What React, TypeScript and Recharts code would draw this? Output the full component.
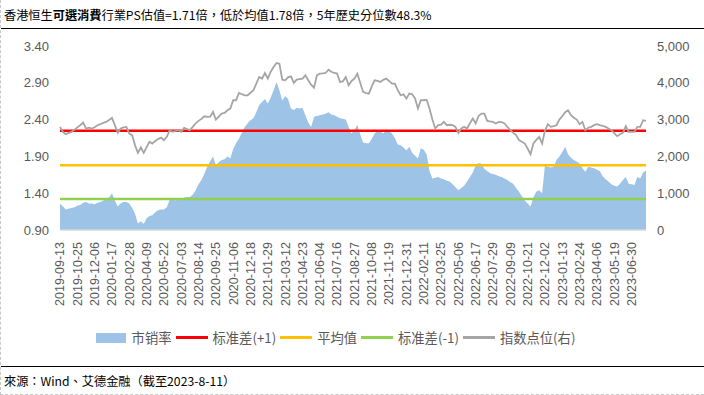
import React from 'react';
import { ComposedChart, Area, Line, XAxis, YAxis, Legend } from 'recharts';

// 市销率 (PS), weekly, 2019-09-13 .. 2023-08-04
const psRatio = [
  1.26, 1.22, 1.18, 1.19, 1.2, 1.21, 1.23, 1.24, 1.27, 1.28,
  1.26, 1.26, 1.25, 1.27, 1.28, 1.3, 1.31, 1.34, 1.4, 1.3,
  1.22, 1.26, 1.28, 1.28, 1.26, 1.2, 1.12, 0.99, 1.02, 0.98,
  1.06, 1.09, 1.1, 1.14, 1.17, 1.18, 1.18, 1.21, 1.31, 1.33,
  1.3, 1.32, 1.31, 1.34, 1.35, 1.35, 1.38, 1.44, 1.52, 1.58,
  1.66, 1.76, 1.83, 1.9, 1.78, 1.82, 1.85, 1.86, 1.9, 1.87,
  2.0, 2.08, 2.14, 2.22, 2.3, 2.35, 2.39, 2.42, 2.5, 2.6,
  2.64, 2.68, 2.62, 2.7, 2.8, 2.91, 2.8, 2.66, 2.72, 2.68,
  2.55, 2.53, 2.56, 2.55, 2.56, 2.46, 2.36, 2.3, 2.44, 2.45,
  2.46, 2.47, 2.48, 2.5, 2.47, 2.46, 2.44, 2.42, 2.41,
  2.4, 2.3, 2.21, 2.26, 2.33, 2.2, 2.09, 2.08, 2.08, 2.14,
  2.21, 2.25, 2.24, 2.21, 2.27, 2.25, 2.21, 2.15, 2.06, 2.05,
  2.02, 1.98, 2.03, 1.95, 1.91, 1.87, 2.01, 1.99, 1.93, 1.7,
  1.6, 1.61, 1.62, 1.6, 1.59, 1.57, 1.56, 1.52, 1.48, 1.44,
  1.47, 1.5, 1.56, 1.62, 1.68, 1.78, 1.81, 1.8, 1.73, 1.7,
  1.67, 1.66, 1.65, 1.63, 1.62, 1.6, 1.58, 1.55, 1.53, 1.47,
  1.42, 1.36, 1.3, 1.26, 1.22, 1.35, 1.42, 1.44, 1.4, 1.78,
  1.76, 1.75, 1.76, 1.85, 1.9, 1.96, 2.03, 1.93, 1.88, 1.85,
  1.83, 1.8, 1.74, 1.69, 1.76, 1.75, 1.74, 1.72, 1.7, 1.63,
  1.59, 1.56, 1.52, 1.5, 1.49, 1.53, 1.58, 1.62, 1.53, 1.52,
  1.51, 1.62, 1.6, 1.68, 1.71,
];

// 指数点位(右)
const indexLevel = [
  2802, 2667, 2604, 2640, 2667, 2720, 2790, 2848, 2920, 2757,
  2780, 2757, 2790, 2848, 2875, 2911, 2938, 2990, 3046, 2850,
  2640, 2757, 2790, 2802, 2622, 2577, 2300, 2097, 2242, 2097,
  2250, 2396, 2350, 2420, 2470, 2513, 2441, 2531, 2712, 2667,
  2690, 2712, 2667, 2775, 2740, 2712, 2802, 2900, 2965, 3020,
  3091, 3073, 3080, 3209, 3001, 3080, 3164, 3180, 3254, 3300,
  3526, 3526, 3724, 3690, 3661, 3661, 3730, 3797, 3978, 4158,
  4113, 4267, 4113, 4300, 4430, 4538, 4520, 4086, 4068, 4150,
  4176, 3996, 4086, 4100, 4113, 4204, 4068, 3950, 3869, 4204,
  4249, 4255, 4267, 4357, 4300, 4267, 4249, 4023, 4040,
  4158, 3932, 4050, 4113, 4249, 4000, 3752, 3720, 3706, 3900,
  4068, 4050, 4023, 4080, 4113, 4050, 3978, 3978, 3800, 3661,
  3688, 3571, 3706, 3688, 3571, 3300, 3526, 3526, 3540, 3300,
  3000, 2757, 2848, 2860, 2938, 2848, 2860, 2848, 2802, 2640,
  2760, 2802, 2757, 2900, 3028, 2893, 3100, 3164, 3164, 2965,
  2950, 2938, 2893, 2938, 2930, 2893, 2800, 2712, 2640, 2577,
  2441, 2400, 2350, 2215, 2061, 2350, 2450, 2531, 2350, 2700,
  2875, 2802, 2820, 2848, 3000, 3092, 3200, 3254, 3119, 3050,
  3001, 2875, 2938, 2712, 2780, 2802, 2850, 2875, 2848, 2830,
  2802, 2760, 2712, 2630, 2549, 2600, 2640, 2821, 2667, 2667,
  2667, 2802, 2802, 2983, 2965,
];

const meanPs = 1.78;
const upperBand = 2.25;
const lowerBand = 1.32;

const leftTicks = [0.9, 1.4, 1.9, 2.4, 2.9, 3.4];
const rightTicks = [0, 500, 1000, 1500, 2000, 2500, 3000, 3500, 4000, 4500, 5000];
const legendOrder = ['市销率', '标准差(+1)', '平均值', '标准差(-1)', '指数点位(右)'];

// trading-day shifts where the Friday was a holiday
const holidayShift: Record<string, string> = {
  '2020-04-10': '2020-04-09',
  '2020-12-25': '2020-12-24',
  '2021-04-02': '2021-04-01',
  '2022-04-15': '2022-04-14',
  '2023-04-07': '2023-04-06',
};

const startDate = Date.UTC(2019, 8, 13);
const weekMs = 7 * 24 * 3600 * 1000;

const dates = psRatio.map((_, i) => {
  const d = new Date(startDate + i * weekMs).toISOString().slice(0, 10);
  return holidayShift[d] ?? d;
});
// a label every 6th week
const dateTicks = dates.filter((_, i) => i % 6 === 0);

const data = dates.map((date, i) => ({
  date,
  ps: psRatio[i],
  upper: upperBand,
  mean: meanPs,
  lower: lowerBand,
  hsi: indexLevel[i],
}));

const axisFont = '"Liberation Sans", Arial, sans-serif';
const cjkFont = '"Noto Sans CJK TC", "Noto Sans CJK SC", sans-serif';

const DateTick = ({ x, y, payload }: any) => (
  <text
    x={x}
    y={y + 4}
    transform={`rotate(-90, ${x}, ${y + 4})`}
    textAnchor="end"
    dy="0.35em"
    fill="#595959"
    fontSize={12.5}
    fontFamily={axisFont}
  >
    {payload.value}
  </text>
);

const LegendContent = ({ payload }: any) => {
  const items = [...(payload || [])].sort(
    (a: any, b: any) => legendOrder.indexOf(a.value) - legendOrder.indexOf(b.value)
  );
  return (
    <div
      style={{
        display: 'flex',
        justifyContent: 'center',
        alignItems: 'center',
        paddingRight: 31,
        fontFamily: cjkFont,
        fontSize: 13.3,
        color: '#595959',
      }}
    >
      {items.map((entry: any) => (
        <div key={entry.value} style={{ display: 'flex', alignItems: 'center', marginRight: 4 }}>
          {entry.type === 'rect' ? (
            <span style={{ width: 30, height: 10, background: entry.color, marginRight: 6 }} />
          ) : (
            <span style={{ width: 32, height: 3, background: entry.color, marginRight: 5 }} />
          )}
          <span>{entry.value}</span>
        </div>
      ))}
    </div>
  );
};

export default function App() {
  return (
    <div
      style={{
        position: 'absolute',
        left: 0,
        top: 0,
        width: 704,
        height: 395,
        background: '#fff',
        boxSizing: 'border-box',
        borderLeft: '1px dashed #c8c8c8',
        borderBottom: '1px dashed #c8c8c8',
        overflow: 'hidden',
      }}
    >
      <div
        style={{
          position: 'absolute',
          left: 3,
          top: 6,
          fontFamily: cjkFont,
          fontSize: 12.2,
          color: '#000',
          whiteSpace: 'nowrap',
        }}
      >
        香港恒生<b>可選消費</b>行業PS估值=1.71倍，低於均值1.78倍，5年歷史分位數48.3%
      </div>
      <div style={{ position: 'absolute', left: 0, top: 28, width: 704, borderTop: '1.5px solid #000' }} />

      <div style={{ position: 'absolute', left: 0, top: 29 }}>
        <ComposedChart width={704} height={336} data={data} margin={{ top: 17, right: 0, bottom: 55, left: 0 }}>
          <XAxis
            dataKey="date"
            scale="point"
            padding={{ left: 0, right: 0 }}
            ticks={dateTicks}
            interval={0}
            axisLine={{ stroke: '#d9d9d9', strokeWidth: 1.5 }}
            tickLine={false}
            tick={<DateTick />}
            height={80}
          />
          <YAxis
            yAxisId="left"
            domain={[0.9, 3.4]}
            ticks={leftTicks}
            tickFormatter={(v: number) => v.toFixed(2)}
            axisLine={false}
            tickLine={false}
            tickMargin={5}
            width={59}
            tick={{ fill: '#595959', fontSize: 13, fontFamily: axisFont }}
          />
          <YAxis
            yAxisId="right"
            orientation="right"
            domain={[0, 5000]}
            ticks={rightTicks}
            tickFormatter={(v: number) => v.toLocaleString('en-US')}
            axisLine={false}
            tickLine={false}
            tickMargin={5}
            width={59}
            tick={{ fill: '#595959', fontSize: 13, fontFamily: axisFont, textAnchor: 'start' }}
          />
          <Area
            yAxisId="left"
            dataKey="ps"
            name="市销率"
            type="linear"
            fill="#9dc3e6"
            fillOpacity={1}
            stroke="none"
            legendType="rect"
            isAnimationActive={false}
          />
          <Line
            yAxisId="left"
            dataKey="upper"
            name="标准差(+1)"
            stroke="#ff0000"
            strokeWidth={2.5}
            dot={false}
            legendType="plainline"
            isAnimationActive={false}
          />
          <Line
            yAxisId="left"
            dataKey="mean"
            name="平均值"
            stroke="#ffc000"
            strokeWidth={2.5}
            dot={false}
            legendType="plainline"
            isAnimationActive={false}
          />
          <Line
            yAxisId="left"
            dataKey="lower"
            name="标准差(-1)"
            stroke="#92d050"
            strokeWidth={2.5}
            dot={false}
            legendType="plainline"
            isAnimationActive={false}
          />
          <Line
            yAxisId="right"
            dataKey="hsi"
            name="指数点位(右)"
            type="linear"
            stroke="#a5a5a5"
            strokeWidth={1.8}
            dot={false}
            legendType="plainline"
            isAnimationActive={false}
          />
          <Legend
            layout="horizontal"
            verticalAlign="middle"
            align="center"
            content={<LegendContent />}
            wrapperStyle={{ top: 299, left: 0, width: 704 }}
          />
        </ComposedChart>
      </div>

      <div style={{ position: 'absolute', left: 0, top: 366, width: 704, borderTop: '1.5px solid #000' }} />
      <div
        style={{
          position: 'absolute',
          left: 3,
          top: 372,
          fontFamily: cjkFont,
          fontSize: 12.2,
          color: '#000',
          whiteSpace: 'nowrap',
        }}
      >
        來源：Wind、艾德金融（截至2023-8-11）
      </div>
    </div>
  );
}
